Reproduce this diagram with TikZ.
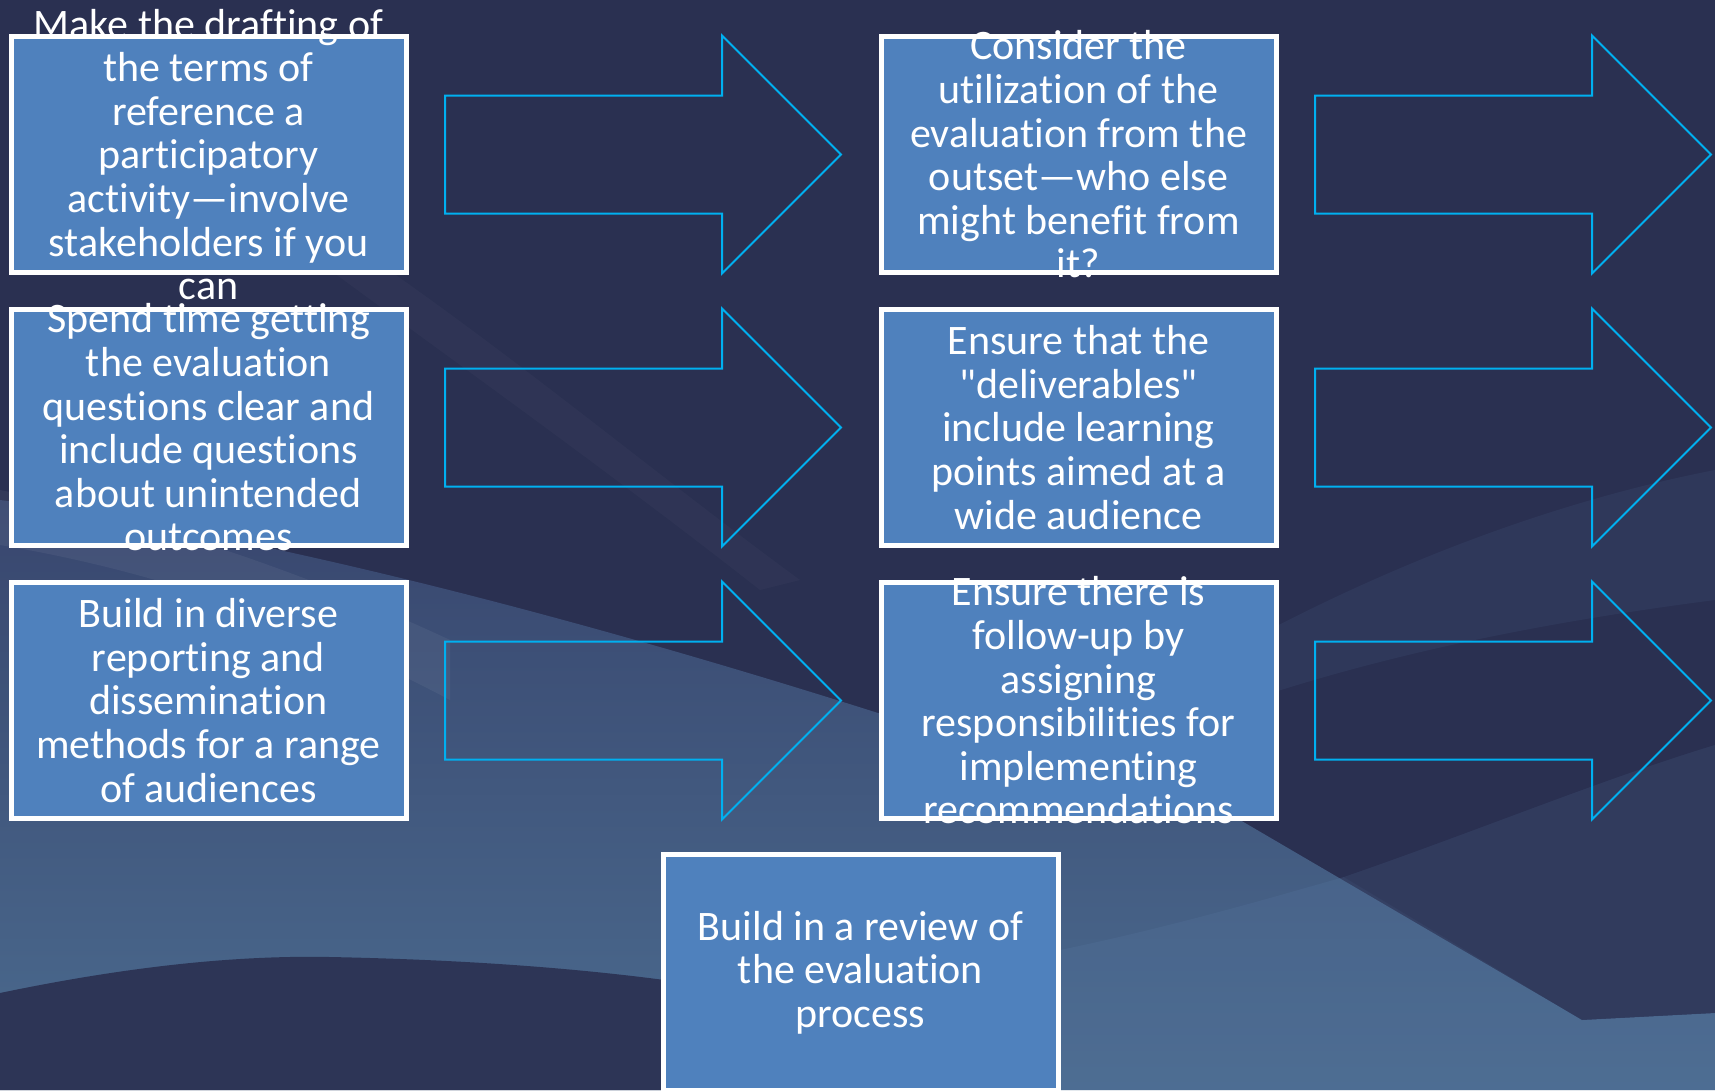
\documentclass[tikz,border=0pt]{standalone}
\usepackage{fontspec}
\setmainfont{Carlito}[Ligatures={TeXOff,CommonOff}]
\definecolor{bgnavy}{HTML}{2A3051}
\definecolor{bgmid}{HTML}{38466E}
\definecolor{bglight}{HTML}{4B6B8F}
\definecolor{bgsweep}{HTML}{5676A0}
\definecolor{boxblue}{HTML}{4F81BD}
\definecolor{arrowcyan}{HTML}{00B0F0}
\tikzset{
  cardbox/.style={fill=boxblue, minimum width=395pt, minimum height=236pt,
    inner sep=0pt, outer sep=0pt},
  cardtext/.style={text=white, align=center, inner sep=0pt,
    font=\fontsize{42}{43.6}\selectfont},
  cardframe/.style={draw=white, line width=5pt},
  arrowline/.style={draw=arrowcyan, line width=2pt, line join=miter},
  blockarrow/.pic={
    \draw[arrowline] (0,-59) -- (277,-59) -- (277,-119) -- (396,0)
      -- (277,119) -- (277,59) -- (0,59) -- cycle;
  },
}
\begin{document}
\begin{tikzpicture}[x=1pt,y=-1pt]
\useasboundingbox (0,0) rectangle (1715,1090);
\clip (0,0) rectangle (1715,1090);

% ---- backdrop: dark navy with soft lighter sweeps ----
\fill[bgnavy] (0,0) rectangle (1715,1090);
% faint streak in the upper half
\fill[white, opacity=0.025] (360,250) .. controls (520,360) and (650,470) .. (800,580)
  -- (760,590) .. controls (620,480) and (480,380) .. (330,270) -- cycle;
\fill[bgsweep, opacity=0.12] (1250,640) .. controls (1400,560) and (1560,500) .. (1715,470)
  -- (1715,600) .. controls (1560,620) and (1400,650) .. (1250,700) -- cycle;
% broad sweep across the lower half
\shade[top color=bgmid, bottom color=bglight]
  (0,500) .. controls (300,540) and (650,640) .. (900,720)
  .. controls (1050,770) and (1150,790) .. (1240,820)
  -- (1582,1020) -- (1715,1013) -- (1715,1090) -- (0,1090) -- cycle;
% light streak below the second row on the left
\fill[white, opacity=0.05] (0,490) .. controls (150,520) and (300,570) .. (450,640)
  -- (450,700) .. controls (300,620) and (150,570) .. (0,545) -- cycle;
% rising band at the lower right
\fill[bgsweep, opacity=0.25] (600,1090) .. controls (800,1010) and (950,975) .. (1060,950)
  .. controls (1180,925) and (1280,895) .. (1344,877)
  .. controls (1480,830) and (1600,780) .. (1715,745) -- (1715,1090) -- cycle;
% darker wedge right of the crossing
\fill[bgnavy, opacity=0.35] (1344,877) -- (1582,1020) -- (1715,1013) -- (1715,745)
  .. controls (1600,780) and (1480,830) .. (1344,877) -- cycle;
% dark arc at the bottom left
\fill[bgnavy!92!bglight] (0,993) .. controls (120,968) and (230,955) .. (330,957)
  .. controls (480,960) and (600,970) .. (700,985)
  .. controls (850,1010) and (950,1050) .. (1000,1090) -- (0,1090) -- cycle;

% ---- boxes ----
\node[cardbox] (b1) at (208.5,154.5) {};
\node[cardbox] (b2) at (208.5,427.5) {};
\node[cardbox] (b3) at (208.5,700.5) {};
\node[cardbox] (b4) at (1078.5,154.5) {};
\node[cardbox] (b5) at (1078.5,427.5) {};
\node[cardbox] (b6) at (1078.5,700.5) {};
\node[cardbox] (b7) at (860.5,972.5) {};

% ---- block arrows ----
\pic at (445,154.5) {blockarrow};
\pic at (445,427.5) {blockarrow};
\pic at (445,700.5) {blockarrow};
\pic at (1315,154.5) {blockarrow};
\pic at (1315,427.5) {blockarrow};
\pic at (1315,700.5) {blockarrow};

% ---- texts ----
\node[cardtext] (t1) at (b1) {Make the drafting of\\the terms of\\reference a\\participatory\\activity—involve\\stakeholders if you\\can};
\node[cardtext] (t2) at (b2) {Spend time getting\\the evaluation\\questions clear and\\include questions\\about unintended\\outcomes};
\node[cardtext] (t3) at (b3) {Build in diverse\\reporting and\\dissemination\\methods for a range\\of audiences};
\node[cardtext] (t4) at (b4) {Consider the\\utilization of the\\evaluation from the\\outset—who else\\might benefit from\\it?};
\node[cardtext] (t5) at (b5) {Ensure that the\\"deliverables"\\include learning\\points aimed at a\\wide audience};
\node[cardtext] (t6) at (b6) {Ensure there is\\follow-up by\\assigning\\responsibilities for\\implementing\\recommendations};
\node[cardtext] (t7) at (b7) {Build in a review of\\the evaluation\\process};

% ---- white frames on top ----
\foreach \b in {b1,b2,b3,b4,b5,b6,b7}
  \draw[cardframe] (\b.south west) rectangle (\b.north east);
\end{tikzpicture}
\end{document}
